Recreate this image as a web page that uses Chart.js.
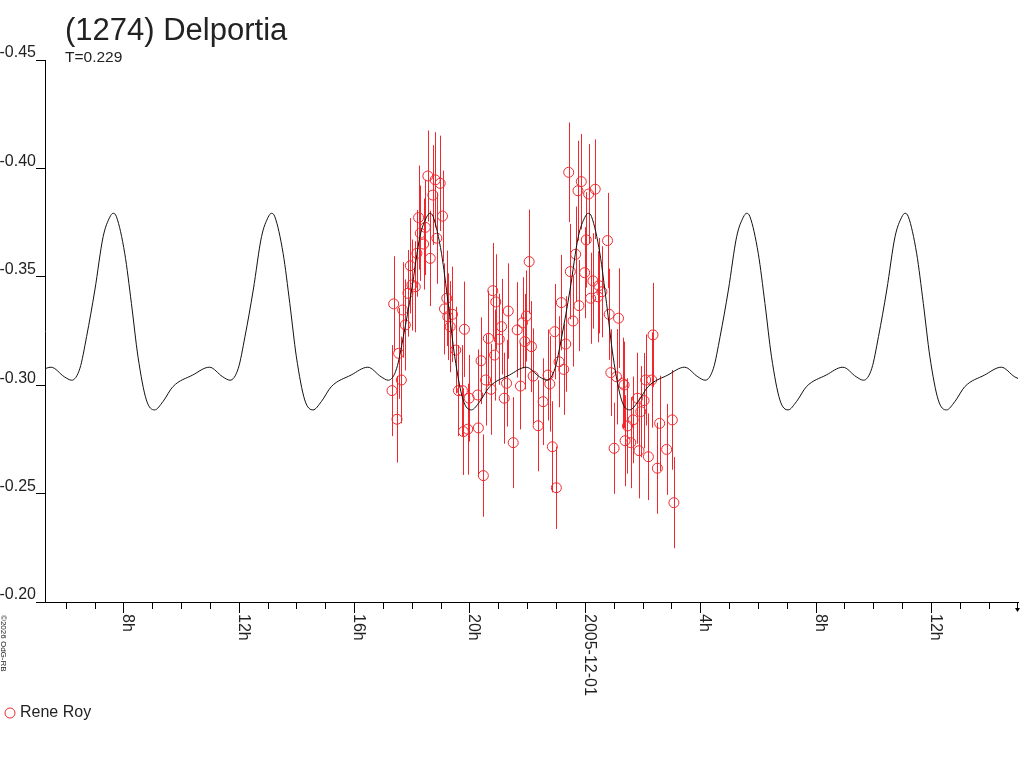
<!DOCTYPE html>
<html>
<head>
<meta charset="utf-8">
<title>(1274) Delportia</title>
<script src="https://cdn.jsdelivr.net/npm/chart.js@4.4.0/dist/chart.umd.min.js"></script>
<style>
  html, body { margin: 0; padding: 0; background: #fff; }
  canvas { display: block; }
</style>
</head>
<body>
<canvas id="lc" width="1024" height="768"></canvas>
<script>
// textes
const titleText = '(1274) Delportia'
const periodText = 'T=0.229'
const observerName = 'Rene Roy'
const footerText = '\u00a92026 OdG-RB'

// axe Y (magnitude, inversé)
const yTicks = [-0.45, -0.40, -0.35, -0.30, -0.25, -0.20]

// axe X en heures depuis 2005-11-30 0h
const labelHours = [8, 12, 16, 20, 24, 28, 32, 36]
const labelTexts = ['8h', '12h', '16h', '20h', '2005-12-01', '4h', '8h', '12h']

// courbe modèle
const curveHours = [
  4.912, 5.489, 5.949,
  6.204, 6.491, 6.722, 7.009, 7.296, 7.527, 7.641, 7.758, 8.045, 8.277, 8.505, 8.795, 9.081, 9.368, 9.714, 10.404, 10.981, 11.441,
  11.696, 11.983, 12.214, 12.501, 12.788, 13.019, 13.133, 13.250, 13.537, 13.769, 13.997, 14.287, 14.573, 14.860, 15.206, 15.896, 16.473, 16.933,
  17.188, 17.475, 17.706, 17.993, 18.280, 18.511, 18.625, 18.742, 19.029, 19.261, 19.489, 19.779, 20.065, 20.352, 20.698, 21.388, 21.965, 22.425,
  22.680, 22.967, 23.198, 23.485, 23.772, 24.003, 24.117, 24.234, 24.521, 24.753, 24.981, 25.271, 25.557, 25.844, 26.190, 26.880, 27.457, 27.917,
  28.172, 28.459, 28.690, 28.977, 29.264, 29.495, 29.609, 29.726, 30.013, 30.245, 30.473, 30.763, 31.049, 31.336, 31.682, 32.372, 32.949, 33.409,
  33.664, 33.951, 34.182, 34.469, 34.756, 34.987, 35.101, 35.218, 35.505, 35.737, 35.965, 36.255, 36.541, 36.828, 37.174, 37.864, 38.441, 38.901,
  39.156
]
const curveMags = [
  -0.3047, -0.3083, -0.3039,
  -0.3023, -0.3078, -0.3224, -0.3439, -0.3685, -0.3775, -0.3793, -0.3777, -0.3608, -0.3377, -0.3131, -0.2932, -0.2886, -0.2924, -0.2993, -0.3047, -0.3083, -0.3039,
  -0.3023, -0.3078, -0.3224, -0.3439, -0.3685, -0.3775, -0.3793, -0.3777, -0.3608, -0.3377, -0.3131, -0.2932, -0.2886, -0.2924, -0.2993, -0.3047, -0.3083, -0.3039,
  -0.3023, -0.3078, -0.3224, -0.3439, -0.3685, -0.3775, -0.3793, -0.3777, -0.3608, -0.3377, -0.3131, -0.2932, -0.2886, -0.2924, -0.2993, -0.3047, -0.3083, -0.3039,
  -0.3023, -0.3078, -0.3224, -0.3439, -0.3685, -0.3775, -0.3793, -0.3777, -0.3608, -0.3377, -0.3131, -0.2932, -0.2886, -0.2924, -0.2993, -0.3047, -0.3083, -0.3039,
  -0.3023, -0.3078, -0.3224, -0.3439, -0.3685, -0.3775, -0.3793, -0.3777, -0.3608, -0.3377, -0.3131, -0.2932, -0.2886, -0.2924, -0.2993, -0.3047, -0.3083, -0.3039,
  -0.3023, -0.3078, -0.3224, -0.3439, -0.3685, -0.3775, -0.3793, -0.3777, -0.3608, -0.3377, -0.3131, -0.2932, -0.2886, -0.2924, -0.2993, -0.3047, -0.3083, -0.3039,
  -0.3023
]

// mesures de Rene Roy
const obsHours = [
  17.313, 17.371, 17.485, 17.544, 17.637, 17.682, 17.775, 17.865, 17.948, 18.003,
  18.121, 18.176, 18.235, 18.294, 18.408, 18.466, 18.556, 18.639, 18.729, 18.812,
  18.867, 18.984, 19.064, 19.133, 19.212, 19.247, 19.330, 19.409, 19.523, 19.617,
  19.755, 19.789, 19.824, 19.938, 19.986, 20.283, 20.307, 20.401, 20.480, 20.559,
  20.653, 20.746, 20.808, 20.870, 20.912, 21.033, 21.112, 21.205, 21.285, 21.344,
  21.516, 21.654, 21.768, 21.838, 21.920, 21.976, 22.069, 22.148, 22.207, 22.380,
  22.553, 22.725, 22.784, 22.874, 22.957, 23.012, 23.105, 23.185, 23.268, 23.337,
  23.440, 23.496, 23.589, 23.682, 23.762, 23.796, 23.876, 23.993, 24.048, 24.131,
  24.200, 24.280, 24.359, 24.452, 24.487, 24.591, 24.787, 24.843, 24.901, 25.015,
  25.098, 25.167, 25.306, 25.361, 25.395, 25.478, 25.592, 25.672, 25.824, 25.879,
  25.938, 26.052, 26.110, 26.204, 26.318, 26.363, 26.515, 26.594, 26.836, 27.033,
  27.088
]
const obsMags = [
  -0.2975, -0.3375, -0.2843, -0.3147, -0.3024, -0.3347, -0.3278, -0.3424, -0.3551, -0.3462,
  -0.3454, -0.3608, -0.3773, -0.3701, -0.3651, -0.3728, -0.3965, -0.3585, -0.3877, -0.3947,
  -0.3678, -0.3931, -0.3780, -0.3352, -0.3401, -0.3316, -0.3270, -0.3327, -0.3162, -0.2975,
  -0.2975, -0.2786, -0.3258, -0.2797, -0.2940, -0.2955, -0.2803, -0.3113, -0.2583, -0.3024,
  -0.3216, -0.2981, -0.3436, -0.3139, -0.3384, -0.3212, -0.3270, -0.2940, -0.3009, -0.3342,
  -0.2735, -0.3255, -0.2996, -0.3288, -0.3201, -0.3319, -0.3570, -0.3178, -0.3042, -0.2813,
  -0.2924, -0.3047, -0.3006, -0.2716, -0.3247, -0.2527, -0.3108, -0.3381, -0.3073, -0.3190,
  -0.3982, -0.3524, -0.3296, -0.3604, -0.3897, -0.3367, -0.3939, -0.3519, -0.3670, -0.3882,
  -0.3401, -0.3481, -0.3904, -0.3408, -0.3459, -0.3431, -0.3667, -0.3327, -0.3058, -0.2709,
  -0.3039, -0.3309, -0.3009, -0.3001, -0.2744, -0.2812, -0.2735, -0.2840, -0.2940, -0.2698,
  -0.2878, -0.2929, -0.3024, -0.2670, -0.3024, -0.3232, -0.2617, -0.2824, -0.2704, -0.2840,
  -0.2458
]
const obsErrors = [
  0.021, 0.022, 0.020, 0.021, 0.020, 0.022, 0.021, 0.020, 0.022, 0.021,
  0.021, 0.020, 0.024, 0.022, 0.021, 0.022, 0.021, 0.022, 0.023, 0.022,
  0.021, 0.022, 0.021, 0.021, 0.022, 0.020, 0.021, 0.022, 0.020, 0.021,
  0.021, 0.020, 0.022, 0.021, 0.020, 0.021, 0.022, 0.020, 0.019, 0.021,
  0.022, 0.021, 0.022, 0.021, 0.022, 0.021, 0.022, 0.021, 0.020, 0.022,
  0.021, 0.022, 0.020, 0.021, 0.022, 0.021, 0.024, 0.021, 0.022, 0.021,
  0.020, 0.021, 0.022, 0.021, 0.022, 0.019, 0.021, 0.022, 0.021, 0.022,
  0.023, 0.022, 0.021, 0.022, 0.023, 0.021, 0.022, 0.021, 0.022, 0.023,
  0.021, 0.022, 0.023, 0.021, 0.022, 0.021, 0.022, 0.021, 0.020, 0.021,
  0.022, 0.023, 0.021, 0.020, 0.021, 0.022, 0.021, 0.020, 0.021, 0.022,
  0.021, 0.022, 0.021, 0.020, 0.022, 0.024, 0.021, 0.022, 0.021, 0.023,
  0.021
]

const police = "'Liberation Sans', Arial, sans-serif"
const rouge = '#f0282d'
const texte = '#222'

// barres d'erreur, graduations de l'axe X, titre et légende
const decor = {
  id: 'decor',
  beforeDatasetsDraw (chart) {
    const { ctx, chartArea: a, scales: { x, y } } = chart
    ctx.save()
    ctx.beginPath()
    ctx.rect(a.left, a.top, a.right - a.left, a.bottom - a.top)
    ctx.clip()
    ctx.strokeStyle = rouge
    ctx.lineWidth = 1
    obsHours.forEach((h, i) => {
      const px = Math.round(x.getPixelForValue(h)) + 0.5
      ctx.beginPath()
      ctx.moveTo(px, y.getPixelForValue(obsMags[i] - obsErrors[i]))
      ctx.lineTo(px, y.getPixelForValue(obsMags[i] + obsErrors[i]))
      ctx.stroke()
    })
    ctx.restore()
  },
  afterDraw (chart) {
    const { ctx, chartArea: a, scales: { x } } = chart
    ctx.save()
    ctx.strokeStyle = '#000'
    ctx.fillStyle = '#000'
    ctx.lineWidth = 1
    const last = Math.floor(x.max)
    x.ticks.forEach(t => {
      const h = t.value
      const px = Math.round(x.getPixelForValue(h)) + 0.5
      const len = h % 4 === 0 ? 11 : 7
      ctx.beginPath()
      ctx.moveTo(px, a.bottom)
      ctx.lineTo(px, a.bottom + len)
      ctx.stroke()
      if (h === last) {
        ctx.beginPath()
        ctx.moveTo(px - 2.5, a.bottom + 6)
        ctx.lineTo(px + 2.5, a.bottom + 6)
        ctx.lineTo(px, a.bottom + 10)
        ctx.closePath()
        ctx.fill()
      }
      const k = labelHours.indexOf(h)
      if (k >= 0) {
        ctx.save()
        ctx.translate(px - 0.5, a.bottom + 12)
        ctx.rotate(Math.PI / 2)
        ctx.font = '16px ' + police
        ctx.fillStyle = texte
        ctx.textAlign = 'left'
        ctx.textBaseline = 'alphabetic'
        ctx.fillText(labelTexts[k], 0, 0)
        ctx.restore()
      }
    })

    // titre
    ctx.fillStyle = texte
    ctx.textAlign = 'left'
    ctx.textBaseline = 'alphabetic'
    ctx.font = '31px ' + police
    ctx.fillText(titleText, 65, 40)
    ctx.font = '15.5px ' + police
    ctx.fillText(periodText, 65, 62)

    // légende
    ctx.strokeStyle = rouge
    ctx.beginPath()
    ctx.arc(10, 713, 5, 0, Math.PI * 2)
    ctx.stroke()
    ctx.font = '16px ' + police
    ctx.textBaseline = 'middle'
    ctx.fillText(observerName, 20, 713)

    // copyright vertical
    ctx.translate(1, 615)
    ctx.rotate(Math.PI / 2)
    ctx.font = '8px ' + police
    ctx.textBaseline = 'alphabetic'
    ctx.fillText(footerText, 0, 0)
    ctx.restore()
  }
}

new Chart(document.getElementById('lc'), {
  type: 'line',
  data: {
    datasets: [
      {
        label: 'modèle',
        data: curveHours.map((h, i) => ({ x: h, y: curveMags[i] })),
        borderColor: '#111',
        borderWidth: 1,
        pointRadius: 0,
        fill: false,
        cubicInterpolationMode: 'monotone',
        order: 0
      },
      {
        type: 'scatter',
        label: observerName,
        data: obsHours.map((h, i) => ({ x: h, y: obsMags[i] })),
        showLine: false,
        pointStyle: 'circle',
        pointRadius: 5,
        borderColor: rouge,
        backgroundColor: 'rgba(0,0,0,0)',
        borderWidth: 1,
        order: 1
      }
    ]
  },
  options: {
    responsive: false,
    animation: false,
    devicePixelRatio: 1,
    layout: { padding: { top: 60, right: 2, bottom: 0, left: 0 } },
    plugins: {
      legend: { display: false },
      tooltip: { enabled: false },
      title: { display: false }
    },
    scales: {
      x: {
        type: 'linear',
        min: 5.28,
        max: 39.02,
        // une graduation par heure
        afterBuildTicks: s => {
          const t = []
          for (let h = Math.ceil(s.min); h <= Math.floor(s.max); h++) t.push({ value: h })
          s.ticks = t
        },
        ticks: { display: false },
        grid: { display: false },
        border: { display: true, color: '#000', width: 1 },
        afterFit: s => { s.height = 166 }
      },
      y: {
        type: 'linear',
        reverse: true,
        min: -0.45,
        max: -0.20,
        afterBuildTicks: s => { s.ticks = yTicks.map(v => ({ value: v })) },
        afterFit: s => { s.width = 45 },
        ticks: {
          callback: v => v.toFixed(2),
          font: { family: police, size: 16 },
          color: texte,
          padding: 0,
          labelOffset: -7
        },
        grid: { drawOnChartArea: false, tickLength: 9, color: '#000', tickColor: '#000' },
        border: { display: true, color: '#000', width: 1 }
      }
    }
  },
  plugins: [decor]
})
</script>
</body>
</html>
